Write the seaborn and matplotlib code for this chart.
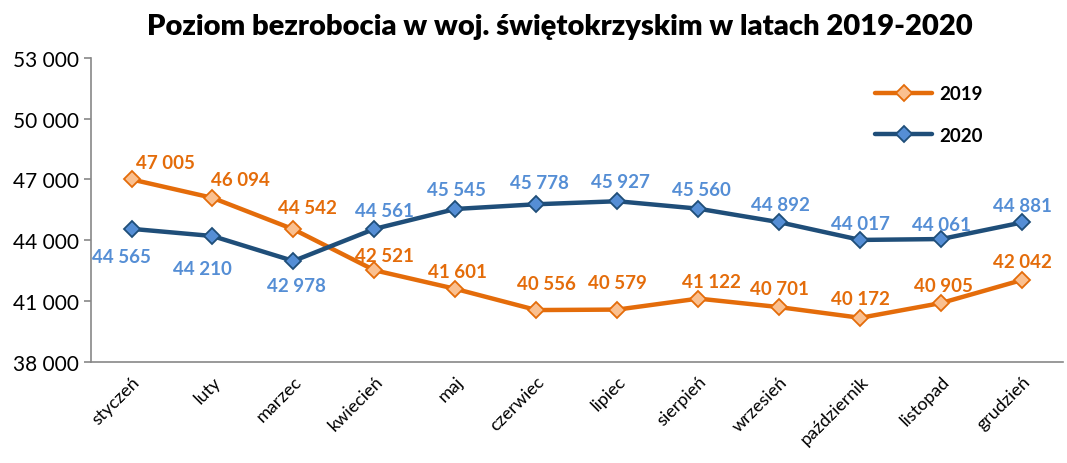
import matplotlib
matplotlib.use("Agg")
import matplotlib.pyplot as plt
import seaborn as sns
import pandas as pd
import numpy as np
from matplotlib.ticker import FuncFormatter, FixedLocator

months = ["styczeń", "luty", "marzec", "kwiecień", "maj", "czerwiec", "lipiec",
          "sierpień", "wrzesień", "październik", "listopad", "grudzień"]
v2019 = [47005, 46094, 44542, 42521, 41601, 40556, 40579, 41122, 40701, 40172, 40905, 42042]
v2020 = [44565, 44210, 42978, 44561, 45545, 45778, 45927, 45560, 44892, 44017, 44061, 44881]
series = ["2019", "2020"]

# label offsets in pixels (dx, dy)
off2019 = [(34, 17), (28, 18), (14, 22), (10, 15), (2, 17), (10, 27), (0, 27), (13, 17), (0, 19), (0, 19), (2, 17), (0, 18)]
off2020 = [(-10, -28), (-10, -32), (3, -25), (10, 18), (1, 19), (3, 22), (3, 20), (3, 19), (1, 18), (0, 16), (0, 15), (0, 17)]

sns.set_style("white")
plt.rcParams['font.family'] = ['Lato', 'DejaVu Sans']
plt.rcParams['text.color'] = 'black'
plt.rcParams['xtick.labelcolor'] = 'black'
plt.rcParams['ytick.labelcolor'] = 'black'

df = pd.DataFrame({
    "x": list(range(12)) * 2,
    "value": v2019 + v2020,
    "rok": [series[0]] * 12 + [series[1]] * 12,
})

fig = plt.figure(figsize=(10.67, 4.64), dpi=100)
ax = fig.add_axes([0.0853, 0.218, 0.9107, 0.655])

orange = "#E46C0A"
orange_face = "#FAC090"
navy = "#1F4E79"
blue_face = "#558ED5"
blue_label = "#558ED5"

styles = {
    "2019": dict(color=orange, mfc=orange_face, mec=orange),
    "2020": dict(color=navy, mfc=blue_face, mec=navy),
}
for s in series:
    sub = df[df["rok"] == s]
    sns.lineplot(data=sub, x="x", y="value", ax=ax, color=styles[s]["color"], lw=3.2,
                 marker="D", markersize=8.5, markerfacecolor=styles[s]["mfc"],
                 markeredgecolor=styles[s]["mec"], markeredgewidth=1.3, label=s, sort=False)

for i, v in enumerate(v2019):
    ax.annotate(f"{v:,}".replace(",", " "), (i, v), xytext=off2019[i], textcoords="offset pixels",
                ha="center", va="center", color=orange, fontsize=13.5, fontweight="bold")
for i, v in enumerate(v2020):
    ax.annotate(f"{v:,}".replace(",", " "), (i, v), xytext=off2020[i], textcoords="offset pixels",
                ha="center", va="center", color=blue_label, fontsize=13.5, fontweight="bold")

ax.set_xlim(-0.5, 11.5)
ax.set_ylim(38000, 53000)
ax.set_yticks(np.arange(38000, 53001, 3000))
ax.yaxis.set_major_formatter(FuncFormatter(lambda v, p: f"{int(v):,}".replace(",", " ")))
ax.set_xticks(range(12))
ax.set_xticklabels(months, rotation=45, ha="right", rotation_mode="anchor", fontsize=13)
ax.xaxis.set_minor_locator(FixedLocator(np.arange(-0.5, 11.6, 1)))
ax.tick_params(axis="x", which="major", length=0, pad=8, labelcolor="black")
ax.tick_params(axis="x", which="minor", length=5, color="#878787", width=1.2)
ax.tick_params(axis="y", length=5, color="#878787", width=1.2, labelsize=15, left=True, pad=4,
               labelcolor="black")
ax.set_xlabel("")
ax.set_ylabel("")
for sp in ["top", "right"]:
    ax.spines[sp].set_visible(False)
for sp in ["left", "bottom"]:
    ax.spines[sp].set_color("#878787")
    ax.spines[sp].set_linewidth(1.2)

leg = ax.legend(loc="upper right", bbox_to_anchor=(0.935, 0.965), frameon=False,
                prop={"weight": "bold", "size": 13.5}, handlelength=3.0, labelspacing=1.3,
                handletextpad=0.4)
for t in leg.get_texts():
    t.set_color("black")

fig.suptitle("Poziom bezrobocia w woj. świętokrzyskim w latach 2019-2020",
             x=0.525, y=0.97, fontsize=21, fontweight="heavy", color="black")

fig.savefig("out.png", dpi=100)
